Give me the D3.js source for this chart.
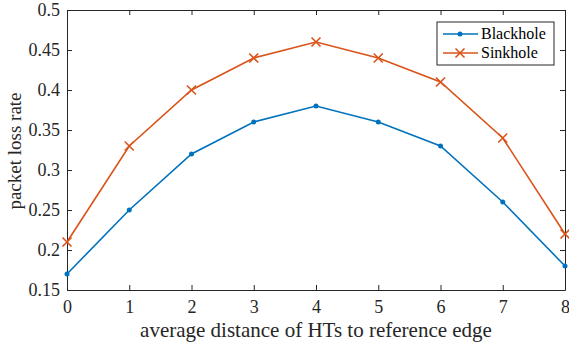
<!DOCTYPE html>
<html>
<head>
<meta charset="utf-8">
<script src="https://cdn.jsdelivr.net/npm/d3@7"></script>
<style>
  body { margin: 0; background: #fff; }
</style>
</head>
<body>
<div id="chart"></div>
<script>
const xValues = [0, 1, 2, 3, 4, 5, 6, 7, 8]
const blackhole = [0.17, 0.25, 0.32, 0.36, 0.38, 0.36, 0.33, 0.26, 0.18]
const sinkhole = [0.21, 0.33, 0.40, 0.44, 0.46, 0.44, 0.41, 0.34, 0.22]
const yTicks = [0.15, 0.2, 0.25, 0.3, 0.35, 0.4, 0.45, 0.5]
const seriesNames = ['Blackhole', 'Sinkhole']

const width = 569
const height = 347
const margin = {top: 10, right: 4, bottom: 57, left: 67}
const w = width - margin.left - margin.right
const h = height - margin.top - margin.bottom
const axisColor = '#262626'
const colors = ['#0072BD', '#D95319']
const serif = '"Liberation Serif", "Times New Roman", Times, serif'

const svg = d3.select('#chart')
  .append('svg')
    .attr('width', width)
    .attr('height', height)
    .attr('font-family', serif)

const g = svg.append('g')
  .attr('transform', 'translate(' + margin.left + ',' + margin.top + ')')

const x = d3.scaleLinear().domain([0, 8]).range([0, w])
const y = d3.scaleLinear().domain([0.15, 0.5]).range([h, 0])

// box with inward ticks, MATLAB style
const styleAxis = (sel) => {
  sel.attr('font-family', serif).attr('font-size', 18)
  sel.select('.domain').attr('stroke', axisColor)
  sel.selectAll('.tick line').attr('stroke', axisColor)
  sel.selectAll('.tick text').attr('fill', axisColor)
}

g.append('g')
  .attr('transform', 'translate(0,' + h + ')')
  .call(d3.axisBottom(x).tickValues(xValues).tickSize(-5).tickSizeOuter(0).tickPadding(10).tickFormat(d3.format('d')))
  .call(styleAxis)

g.append('g')
  .call(d3.axisTop(x).tickValues(xValues).tickSize(-5).tickSizeOuter(0).tickFormat(''))
  .call(styleAxis)

g.append('g')
  .call(d3.axisLeft(y).tickValues(yTicks).tickSize(-5).tickSizeOuter(0).tickPadding(7).tickFormat(d => String(+d.toFixed(2))))
  .call(styleAxis)

g.append('g')
  .attr('transform', 'translate(' + w + ',0)')
  .call(d3.axisRight(y).tickValues(yTicks).tickSize(-5).tickSizeOuter(0).tickFormat(''))
  .call(styleAxis)

const line = d3.line()
  .x((d, i) => x(xValues[i]))
  .y(d => y(d))

g.append('path')
  .datum(blackhole)
  .attr('fill', 'none')
  .attr('stroke', colors[0])
  .attr('stroke-width', 1.6)
  .attr('d', line)

g.selectAll('.dot')
  .data(blackhole)
  .enter().append('circle')
    .attr('cx', (d, i) => x(xValues[i]))
    .attr('cy', d => y(d))
    .attr('r', 2.5)
    .attr('fill', colors[0])

g.append('path')
  .datum(sinkhole)
  .attr('fill', 'none')
  .attr('stroke', colors[1])
  .attr('stroke-width', 1.6)
  .attr('d', line)

const cross = (sel, cx, cy, s, color) => {
  sel.append('path')
    .attr('d', 'M' + (cx - s) + ',' + (cy - s) + 'L' + (cx + s) + ',' + (cy + s) +
               'M' + (cx - s) + ',' + (cy + s) + 'L' + (cx + s) + ',' + (cy - s))
    .attr('stroke', color)
    .attr('stroke-width', 1.6)
    .attr('fill', 'none')
}

sinkhole.forEach((d, i) => cross(g, x(xValues[i]), y(d), 4.5, colors[1]))

// legend
const legend = svg.append('g').attr('transform', 'translate(437,22)')
legend.append('rect')
  .attr('width', 117)
  .attr('height', 43)
  .attr('fill', '#fff')
  .attr('stroke', axisColor)
  .attr('stroke-width', 1)

seriesNames.forEach((name, i) => {
  const ly = 12 + i * 19
  legend.append('line')
    .attr('x1', 6).attr('x2', 41)
    .attr('y1', ly).attr('y2', ly)
    .attr('stroke', colors[i])
    .attr('stroke-width', 1.6)
  if (i === 0) {
    legend.append('circle').attr('cx', 23).attr('cy', ly).attr('r', 2.5).attr('fill', colors[0])
  } else {
    cross(legend, 23, ly, 4.5, colors[1])
  }
  legend.append('text')
    .attr('x', 44)
    .attr('y', ly + 5)
    .attr('fill', '#000')
    .attr('font-size', 16)
    .text(name)
})

svg.append('text')
  .attr('x', 316)
  .attr('y', 337)
  .attr('text-anchor', 'middle')
  .attr('fill', axisColor)
  .attr('font-size', 21)
  .text('average distance of HTs to reference edge')

svg.append('text')
  .attr('transform', 'translate(21,151) rotate(-90)')
  .attr('text-anchor', 'middle')
  .attr('fill', axisColor)
  .attr('font-size', 19)
  .text('packet loss rate')
</script>
</body>
</html>
